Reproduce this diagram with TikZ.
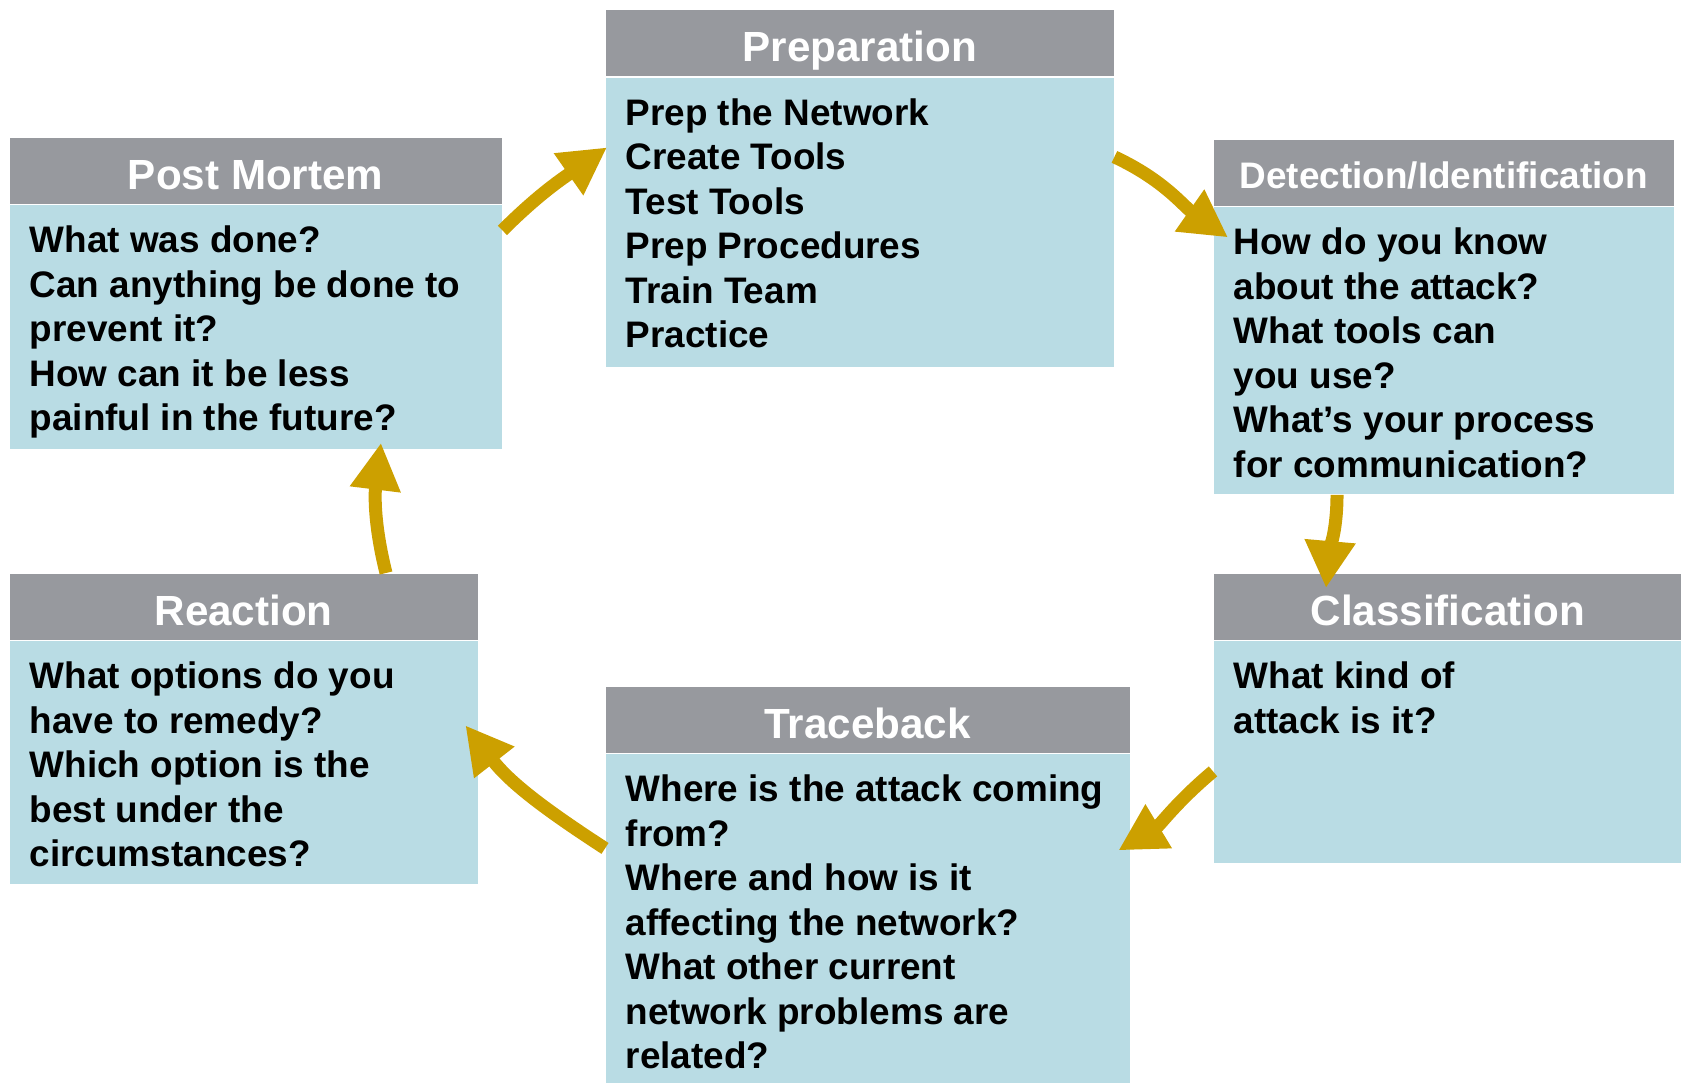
\documentclass[tikz,border=0pt]{standalone}
\usepackage{fontspec}
\setmainfont{Liberation Sans}
\usepackage{tikz}
\usetikzlibrary{arrows.meta}

\definecolor{hdrgray}{RGB}{151,153,158}
\definecolor{bodyblue}{RGB}{185,220,228}
\definecolor{flowgold}{RGB}{204,160,0}

\newcommand{\stagetext}[3]{\parbox[t][#2][t]{#1}{\raggedright\leftskip=0.2cm #3}}

\begin{document}
\begin{tikzpicture}[
	stagehead/.style={fill=hdrgray, text=white, inner sep=0pt, minimum height=0.66cm,
		anchor=north west, text height=0.374cm, text depth=0pt,
		font=\fontsize{12}{14}\selectfont\bfseries},
	body/.style={fill=bodyblue, inner xsep=0pt, inner ysep=0.21cm, anchor=north west,
		font=\fontsize{10.5}{12.66}\selectfont\bfseries},
	flow/.style={draw=flowgold, line width=0.13cm, -{Triangle[length=0.47cm,width=0.48cm]}}
]
	\useasboundingbox (0,0) rectangle (16.81,10.82);

	% -- Preparation
	\node[stagehead, minimum width=5.08cm] (prep-h) at (6.05,10.725) {Preparation};
	\node[body] (prep) at (prep-h.south west) {\stagetext{5.08cm}{2.475cm}{Prep the Network\\Create Tools\\Test Tools\\Prep Procedures\\Train Team\\Practice}};

	% -- Detection/Identification
	\node[stagehead, minimum width=4.60cm, text height=0.32cm, font=\fontsize{10.5}{12}\selectfont\bfseries] (det-h) at (12.13,9.43) {Detection/Identification};
	\node[body] (det) at (det-h.south west) {\stagetext{4.60cm}{2.45cm}{How do you know\\about the attack?\\What tools can\\you use?\\What’s your process\\for communication?}};

	% -- Classification
	\node[stagehead, minimum width=4.68cm] (cls-h) at (12.13,5.09) {Classification};
	\node[body] (cls) at (cls-h.south west) {\stagetext{4.68cm}{1.80cm}{What kind of\\attack is it?}};

	% -- Traceback
	\node[stagehead, minimum width=5.24cm] (trace-h) at (6.05,3.96) {Traceback};
	\node[body] (trace) at (trace-h.south west) {\stagetext{5.24cm}{2.88cm}{Where is the attack coming\\from?\\Where and how is it\\affecting the network?\\What other current\\network problems are\\related?}};

	% -- Reaction
	\node[stagehead, minimum width=4.68cm] (rea-h) at (0.09,5.09) {Reaction};
	\node[body] (rea) at (rea-h.south west) {\stagetext{4.68cm}{2.01cm}{What options do you\\have to remedy?\\Which option is the\\best under the\\circumstances?}};

	% -- Post Mortem
	\node[stagehead, minimum width=4.92cm] (pm-h) at (0.09,9.45) {Post Mortem};
	\node[body] (pm) at (pm-h.south west) {\stagetext{4.92cm}{2.02cm}{What was done?\\Can anything be done to\\prevent it?\\How can it be less\\painful in the future?}};

	% -- Cycle arrows
	\draw[flow] ([yshift=-0.26cm]pm.north east) to[out=45,in=215] ([xshift=0.02cm,yshift=-0.705cm]prep.north west);
	\draw[flow] ([yshift=-0.80cm]prep.north east) to[out=-25,in=145] ([xshift=0.15cm,yshift=-0.31cm]det.north west);
	\draw[flow] ([xshift=1.24cm]det.south west) to[out=-90,in=85] ([xshift=1.13cm,yshift=-0.15cm]cls-h.north west);
	\draw[flow] ([yshift=-1.31cm]cls.north west) to[out=220,in=31] ([xshift=-0.12cm,yshift=-0.97cm]trace.north east);
	\draw[flow] ([yshift=-0.95cm]trace.north west) to[out=147,in=-52] ([xshift=-0.13cm,yshift=-0.85cm]rea.north east);
	\draw[flow] ([xshift=3.77cm]rea-h.north west) to[out=104,in=263] ([xshift=3.72cm,yshift=0.07cm]pm.south west);
\end{tikzpicture}
\end{document}
